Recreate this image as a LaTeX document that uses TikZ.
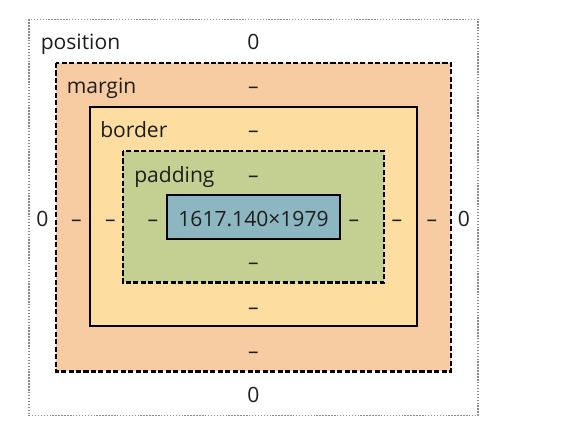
\documentclass[tikz,border=0pt]{standalone}
\usepackage{fontspec}
\setmainfont{Open Sans}
\definecolor{marginc}{HTML}{F7CCA2}
\definecolor{borderc}{HTML}{FDDDA0}
\definecolor{paddingc}{HTML}{C4CF92}
\definecolor{contentc}{HTML}{8CB6C0}
\definecolor{txt}{HTML}{1E1E1E}
\definecolor{dotc}{HTML}{8A8A8A}
\begin{document}
\begin{tikzpicture}[x=0.75pt,y=-0.75pt,
  lbl/.style={anchor=base west,inner sep=0pt,text=txt,font=\fontsize{15.8}{18}\selectfont},
  val/.style={anchor=base,inner sep=0pt,text=txt,font=\fontsize{15.8}{18}\selectfont},
  dashbox/.style={draw=black,line width=1.6pt,dash pattern=on 3.8pt off 1.8pt},
  solidbox/.style={draw=black,line width=1.5pt}]
\useasboundingbox (0,0) rectangle (576,442);
% position (outer)
\draw[dotc,line width=1.2pt,dash pattern=on 1.1pt off 1.1pt] (29,19.5) rectangle (478,415.5);
% margin
\path[fill=marginc,dashbox] (56,63) rectangle (451,371.5);
% border
\path[fill=borderc,solidbox] (89.5,107) rectangle (417,326.5);
% padding
\path[fill=paddingc,dashbox] (123,151) rectangle (384,282.5);
% content
\node[solidbox,fill=contentc,inner sep=0pt,
      minimum width=129.4pt,minimum height=33.4pt] (content) at (253.5,216.8) {};
\node[val] (size) at (253.5,226.3) {1617.140×1979};
% labels
\node[lbl] (lpos) at (40.5,50) {position};
\node[lbl] (lmar) at (66.5,94) {margin};
\node[lbl] (lbor) at (100,138) {border};
\node[lbl] (lpad) at (134,182.5) {padding};
% top values
\node[val] (ptop) at (253.5,50) {0};
\node[val] (mtop) at (253.5,94) {–};
\node[val] (btop) at (253.5,138) {–};
\node[val] (padtop) at (253.5,182.5) {–};
% bottom values
\node[val] (padbot) at (253.5,270) {–};
\node[val] (bbot) at (253.5,314.5) {–};
\node[val] (mbot) at (253.5,358.5) {–};
\node[val] (pbot) at (253.5,402.5) {0};
% left values
\node[val] (pleft) at (42.5,226.5) {0};
\node[val] (mleft) at (76.5,226.5) {–};
\node[val] (bleft) at (110.5,226.5) {–};
\node[val] (padleft) at (153,226.5) {–};
% right values
\node[val] (padright) at (354,226.5) {–};
\node[val] (bright) at (397,226.5) {–};
\node[val] (mright) at (432,226.5) {–};
\node[val] (pright) at (464,226.5) {0};
\end{tikzpicture}
\end{document}
